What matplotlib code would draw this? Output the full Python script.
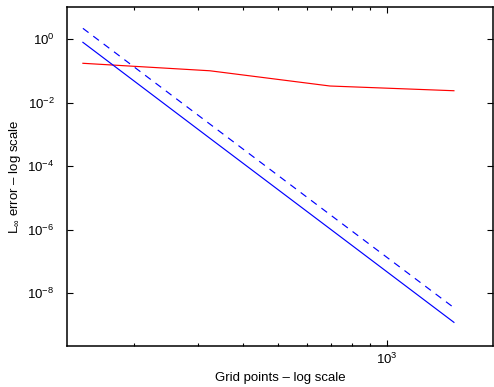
import numpy as np
import matplotlib
matplotlib.use("Agg")
import matplotlib.pyplot as plt
from matplotlib.ticker import LogLocator, NullFormatter, NullLocator, FixedLocator

plt.rcParams['font.family'] = ['Liberation Sans', 'DejaVu Sans']
plt.rcParams['mathtext.fontset'] = 'custom'
plt.rcParams['mathtext.rm'] = 'Liberation Sans'
plt.rcParams['mathtext.it'] = 'Liberation Sans:italic'
plt.rcParams['mathtext.sf'] = 'Liberation Sans'

# grid sizes
grid_points = [144.5, 324, 696, 1531]

# errors
err_red = [0.172, 0.100, 0.0331, 0.0235]
err_blue = [0.787, 7.5e-4, 1.05e-6, 1.19e-9]
err_blue_dash = [2.17, 2.1e-3, 2.95e-6, 3.44e-9]

y_ticks = [1e-8, 1e-6, 1e-4, 1e-2, 1e0]

fig = plt.figure(figsize=(4.94, 3.87), dpi=100)
ax = fig.add_axes([67/494, 1 - 346/387, (493 - 67)/494, (346 - 7)/387])

ax.loglog(grid_points, err_red, color='red', lw=0.85)
ax.loglog(grid_points, err_blue, color='blue', lw=0.85)
ax.loglog(grid_points, err_blue_dash, color='blue', lw=0.85, dashes=(6, 5))

ax.set_xlim(130.6, 1963)
ax.set_ylim(2.14e-10, 10.2)

ax.yaxis.set_major_locator(FixedLocator(y_ticks))
ax.yaxis.set_minor_locator(NullLocator())
ax.xaxis.set_minor_locator(LogLocator(base=10, subs=np.arange(2, 10), numticks=20))
ax.xaxis.set_minor_formatter(NullFormatter())

ax.tick_params(which='both', direction='in', top=True, right=True, labelsize=9.5, color='black')
ax.tick_params(which='major', length=4, width=0.8)
ax.tick_params(which='minor', length=2.5, width=0.8)
ax.tick_params(axis='y', pad=9)
ax.tick_params(axis='x', pad=4)

for s in ax.spines.values():
    s.set_linewidth(1.1)

ax.set_xlabel("Grid points \u2013 log scale", fontsize=9.5, labelpad=4)
ax.set_ylabel("L$_\\infty$ error \u2013 log scale", fontsize=9.5, labelpad=3)

fig.savefig("out.png", dpi=100)
